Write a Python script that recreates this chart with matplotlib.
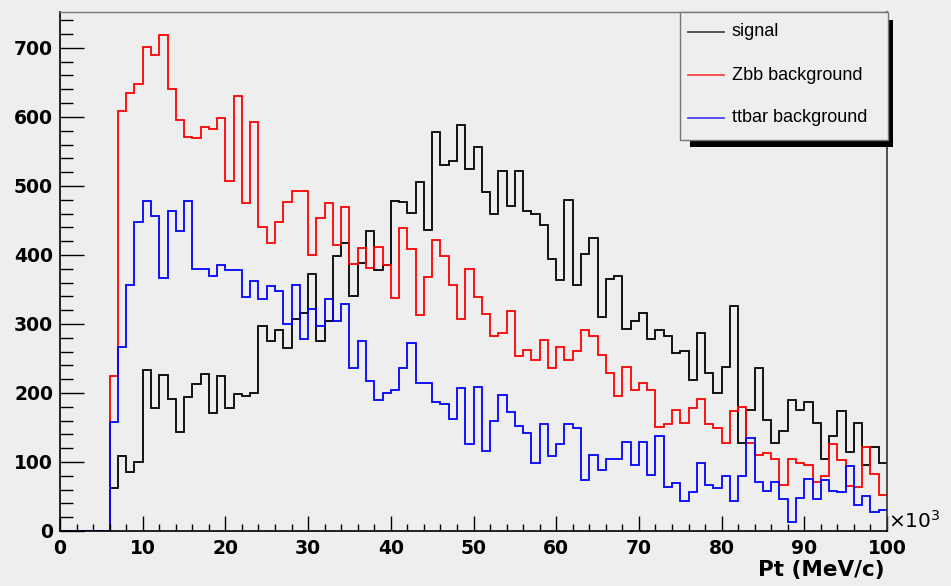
import numpy as np
import matplotlib

matplotlib.use("Agg")
import matplotlib.pyplot as plt
from matplotlib.patches import Rectangle
from matplotlib.lines import Line2D
from matplotlib.ticker import MultipleLocator

# Pt histograms, 100 bins of 1 (x10^3 MeV/c) from 0 to 100.
# Bins below first_bin are empty.
first_bin = 6
n_bins = 100

signal_counts = [
    62, 108, 86, 100, 233, 178, 226, 191, 144, 194, 213, 228, 171, 225, 178,
    199, 195, 200, 297, 275, 291, 265, 307, 316, 372, 275, 304, 398, 417, 341,
    389, 434, 378, 385, 478, 476, 461, 505, 436, 578, 531, 536, 588, 524, 556,
    491, 459, 521, 471, 522, 464, 459, 443, 394, 363, 480, 356, 402, 424, 310,
    365, 369, 292, 304, 316, 278, 291, 282, 258, 261, 219, 287, 229, 200, 238,
    326, 128, 176, 236, 161, 128, 145, 190, 176, 187, 157, 105, 138, 174, 115,
    157, 96, 121, 98,
]

zbb_counts = [
    225, 608, 635, 648, 701, 690, 718, 641, 596, 571, 569, 586, 583, 598, 507,
    630, 475, 593, 441, 417, 447, 476, 493, 493, 400, 453, 475, 414, 470, 387,
    410, 381, 412, 385, 337, 439, 408, 313, 368, 422, 398, 357, 307, 379, 339,
    314, 283, 287, 319, 254, 262, 248, 277, 236, 267, 248, 261, 291, 283, 255,
    229, 195, 238, 204, 214, 204, 151, 155, 176, 157, 178, 191, 155, 149, 128,
    174, 179, 128, 110, 113, 105, 67, 105, 98, 96, 71, 80, 126, 103, 65,
    64, 121, 83, 52,
]

ttbar_counts = [
    158, 267, 356, 447, 478, 456, 366, 463, 434, 478, 380, 380, 369, 385, 378,
    378, 339, 362, 336, 355, 348, 300, 357, 278, 321, 297, 336, 304, 329, 236,
    276, 217, 190, 200, 204, 236, 272, 215, 215, 187, 184, 162, 207, 126, 209,
    116, 160, 197, 172, 152, 142, 98, 155, 109, 126, 155, 149, 74, 110, 89,
    104, 104, 129, 95, 129, 81, 138, 64, 69, 43, 57, 98, 67, 62, 79,
    43, 79, 135, 71, 58, 71, 47, 13, 48, 76, 46, 74, 58, 56, 94,
    38, 51, 27, 31,
]

series_labels = ["signal", "Zbb background", "ttbar background"]
series_colors = ["black", "red", "blue"]

edges = np.arange(n_bins + 1)


def full_hist(counts):
    """pad the empty low bins with zeros"""
    return np.concatenate([np.zeros(first_bin), np.array(counts, dtype=float)])


W, H = 951, 586
bg = "#eeeeee"

fig = plt.figure(figsize=(W / 100, H / 100), dpi=100, facecolor=bg)
ax = fig.add_axes([60 / W, 1 - 531 / H, 827 / W, 519 / H])
ax.set_facecolor(bg)

for counts, color in zip([signal_counts, zbb_counts, ttbar_counts], series_colors):
    ax.stairs(full_hist(counts), edges, color=color, linewidth=1.3, baseline=None)

ax.set_xlim(0, 100)
ax.set_ylim(0, 752)

ax.xaxis.set_major_locator(MultipleLocator(10))
ax.xaxis.set_minor_locator(MultipleLocator(2))
ax.yaxis.set_major_locator(MultipleLocator(100))
ax.yaxis.set_minor_locator(MultipleLocator(20))

ax.tick_params(axis="x", which="major", direction="in", length=10.8, width=1, pad=6)
ax.tick_params(axis="x", which="minor", direction="in", length=5, width=1)
ax.tick_params(axis="y", which="major", direction="in", length=17, width=1, pad=5)
ax.tick_params(axis="y", which="minor", direction="in", length=9, width=1)

for lab in ax.get_xticklabels() + ax.get_yticklabels():
    lab.set_fontfamily("DejaVu Sans")
    lab.set_fontweight("bold")
    lab.set_fontsize(13.5)

ax.spines["left"].set_linewidth(1.2)
ax.spines["bottom"].set_linewidth(1.2)
ax.spines["top"].set_color("#777777")
ax.spines["top"].set_linewidth(1)
ax.spines["right"].set_color("#333333")
ax.spines["right"].set_linewidth(1.2)

# axis title and exponent, ROOT style
fig.text(885 / W, 1 - 570 / H, "Pt (MeV/c)", ha="right", va="center",
         fontfamily="DejaVu Sans", fontweight="bold", fontsize=15.5)
fig.text(888 / W, 1 - 521 / H, r"$\times10^{3}$", ha="left", va="center",
         fontsize=14.5)


def fpx(x, y):
    return x / W, 1 - y / H


# legend box with black shadow
shadow = Rectangle(fpx(690, 147), 203 / W, 127 / H, transform=fig.transFigure,
                   facecolor="black", edgecolor="none", zorder=10)
box = Rectangle(fpx(680, 140), 208 / W, 128 / H, transform=fig.transFigure,
                facecolor=bg, edgecolor="#777777", linewidth=1, zorder=11)
fig.add_artist(shadow)
fig.add_artist(box)

entry_y = [32, 75, 118]
for label, color, yy in zip(series_labels, series_colors, entry_y):
    x0, y0 = fpx(688, yy)
    x1, _ = fpx(724, yy)
    fig.add_artist(Line2D([x0, x1], [y0, y0], color=color, linewidth=1.3,
                          alpha=0.7, transform=fig.transFigure, zorder=12))
    fig.text(732 / W, y0, label, ha="left", va="center", fontsize=13,
             fontfamily="Liberation Sans", zorder=12)

plt.savefig("out.png", dpi=100, facecolor=bg)
